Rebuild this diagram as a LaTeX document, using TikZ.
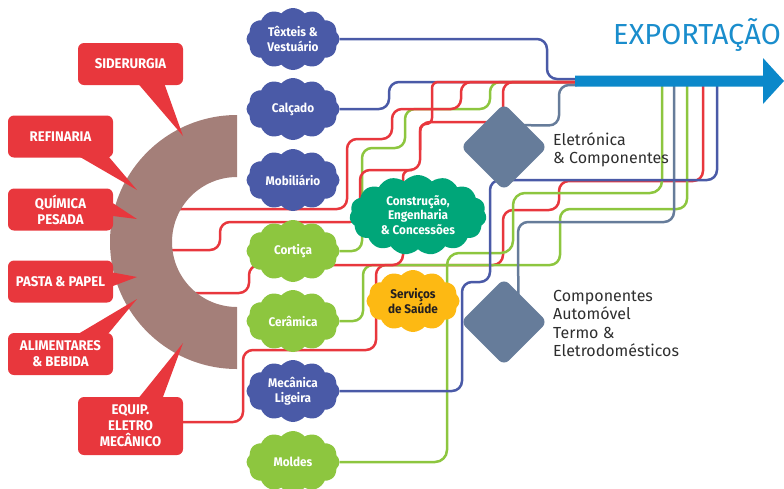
\documentclass[tikz,border=0pt]{standalone}
\usepackage{fontspec}
\setmainfont{Fira Sans}
\newfontfamily\narrowfont{Fira Sans}[FakeStretch=0.94]
\usetikzlibrary{shapes.symbols,shapes.geometric}
\definecolor{cred}{HTML}{E8373D}
\definecolor{cbrown}{HTML}{A47F79}
\definecolor{cblue}{HTML}{4A5AA7}
\definecolor{cgreen}{HTML}{8DC63F}
\definecolor{cteal}{HTML}{00A679}
\definecolor{cyellow}{HTML}{FDB913}
\definecolor{cslate}{HTML}{667C9A}
\definecolor{carrow}{HTML}{0B88CA}
\definecolor{cexp}{HTML}{1A8DCC}
\definecolor{ctext}{HTML}{2E2E2E}
\definecolor{cdark}{HTML}{231F20}
\pgfdeclarelayer{lines}
\pgfdeclarelayer{ring}
\pgfsetlayers{lines,ring,main}
\begin{document}
\begin{tikzpicture}[x=1pt,y=-1pt,
  puff/.style={cloud, cloud puffs=12, cloud puff arc=100, cloud ignores aspect,
    minimum width=93pt, minimum height=62pt, inner sep=0pt, text=white,
    font=\narrowfont\bfseries\fontsize{12.5}{14.5}\selectfont, align=center},
  callout/.style={fill=cred, rounded corners=6pt, minimum width=105pt,
    minimum height=42pt, inner sep=0pt, text=white,
    font=\narrowfont\bfseries\fontsize{14}{16}\selectfont, align=center},
  track/.style={line width=2.5pt, rounded corners=10pt},
  hub/.style={diamond, fill=cslate, minimum width=87pt, minimum height=87pt,
    inner sep=0pt, rounded corners=7pt},
  lbl/.style={anchor=north west, inner sep=0pt, text=ctext,
    font=\fontsize{16}{18.5}\selectfont, align=left}]

\useasboundingbox (0,0) rectangle (784,488);

% ---------- export arrow ----------
\fill[carrow] (575,75.5) -- (763,75.5) -- (763,58) -- (784,81) -- (763,104)
  -- (763,86.5) -- (575,86.5) -- cycle;
\coordinate (tailB) at (577,79);
\coordinate (tailR) at (577,82);
\coordinate (tailS) at (577,85);
\node[anchor=base east, inner sep=0pt, text=cexp,
  font=\fontsize{29}{29}\selectfont] (exp) at (781,44) {EXPORTAÇÃO};

% ---------- ring start points ----------
\coordinate (r1) at (150,209);
\coordinate (r2) at (150,250);
\coordinate (r3) at (150,293);

% ---------- callouts ----------
\fill[cred] (135,80) -- (163,80) -- (183,136) -- cycle;
\fill[cred] (68,150) -- (103,150) -- (137,190) -- cycle;
\fill[cred] (105,198) -- (105,215) -- (137,219) -- cycle;
\fill[cred] (105,271) -- (105,289) -- (137,277) -- cycle;
\fill[cred] (68,340) -- (103,340) -- (137,299) -- cycle;
\fill[cred] (133,405) -- (160,405) -- (183,343) -- cycle;
\node[callout] (sid) at (130.5,64) {SIDERURGIA};
\node[callout] (ref) at (60.5,136.5) {REFINARIA};
\node[callout] (qui) at (60.5,209.5) {QUÍMICA\\PESADA};
\node[callout] (pas) at (60.5,281.5) {PASTA \& PAPEL};
\node[callout] (ali) at (60.5,354) {ALIMENTARES\\\& BEBIDA};
\node[callout, minimum height=58pt] (equ) at (130.5,426) {EQUIP.\\ELETRO\\MECÂNICO};

% ---------- clouds ----------
\node[puff, fill=cblue] (tex) at (293,39) {Têxteis \&\\Vestuário};
\node[puff, fill=cblue] (cal) at (293,109) {Calçado};
\node[puff, fill=cblue] (mob) at (293,180) {Mobiliário};
\node[puff, fill=cgreen] (cor) at (293,251) {Cortiça};
\node[puff, fill=cgreen] (cer) at (293,321) {Cerâmica};
\node[puff, fill=cblue] (mec) at (293,391) {Mecânica\\Ligeira};
\node[puff, fill=cgreen] (mol) at (293,462) {Moldes};
\node[puff, fill=cteal, cloud puffs=15, minimum width=137pt, minimum height=80pt]
  (con) at (418,215) {Construção,\\Engenharia\\\& Concessões};
\node[puff, fill=cyellow, text=cdark, font=\narrowfont\bfseries\fontsize{12.5}{15}\selectfont]
  (sau) at (413,301) {Serviços\\de Saúde};

% ---------- diamonds ----------
\node[hub] (ele) at (504,147) {};
\node[hub] (aut) at (504,322) {};
\node[lbl] (elet) at (553,132) {Eletrónica\\\& Componentes};
\node[lbl] (autt) at (553,290) {Componentes\\Automóvel\\Termo \&\\Eletrodomésticos};

% ---------- ring ----------
\begin{pgfonlayer}{ring}
\fill[cbrown] (237,115) arc[start angle=270, end angle=90, radius=127]
  -- (237,307) arc[start angle=90, end angle=270, radius=65] -- cycle;
\end{pgfonlayer}

% ---------- tracks ----------
\begin{pgfonlayer}{lines}
% equip. eletro mecanico -> export
\draw[track, cred] ([yshift=4pt]equ.east) -- (243,422) -- (243,350) -- (376,350)
  -- (376,265) -- (503,265) -- (503,210) -- (559,210) -- (559,181) -- (703,181) -- (703,86);
% ceramica -> export
\draw[track, cgreen] (cer.east) -- (363,321) -- (363,265) -- (560,265) -- (560,209)
  -- (687,209) -- (687,86);
% ring -> construcao (bottom)
\draw[track, cred] (r3) -- (249,293) -- (249,265) -- (403,265) -- (403,240);
% moldes -> export
\draw[track, cgreen, rounded corners=12pt] (mol.east) -- (447,462) -- (447,253)
  -- (513,253) -- (513,193) -- (662,193) -- (662,86);
% componentes automovel -> export
\draw[track, cslate] ([xshift=-7.5pt]aut.north east) -- (518,222) -- (674,222) -- (674,86);
% mecanica ligeira -> export
\draw[track, cblue] (mec.east) -- (462,391) -- (462,282) -- (490,282) -- (490,180)
  -- (717,180) -- (717,86);
% texteis -> export
\draw[track, cblue] (tex.east) -- (547,39) -- (547,79) -- (tailB);
% calcado -> export
\draw[track, cblue] (cal.east) -- (389,109) -- (389,82) -- (tailR);
% cortica -> export
\draw[track, cgreen] (cor.east) -- (362,251) -- (362,148) -- (405,148) -- (405,109)
  -- (490,109) -- (490,82) -- (tailR);
% ring -> export (upper)
\draw[track, cred] (r1) -- (347,209) -- (347,139) -- (392,139) -- (392,109)
  -- (461,109) -- (461,82) -- (tailR);
% ring -> export (trunk)
\draw[track, cred] (r2) -- (220,250) -- (220,222) -- (360,222) -- (360,170)
  -- (420,170) -- (420,122) -- (503,122) -- (503,82) -- (tailR);
\draw[track, cred, rounded corners=6pt] (420,150) -- (420,124) -- (432,124)
  -- (432,82) -- (tailR);
% construcao (top) joins trunk
\draw[track, cred, rounded corners=7pt] (403,195) -- (403,170) -- (412,170);
% eletronica -> export
\draw[track, cslate] ([xshift=-5pt]ele.north east) -- (559,125.5) -- (559,85) -- (tailS);
\end{pgfonlayer}
\end{tikzpicture}
\end{document}
